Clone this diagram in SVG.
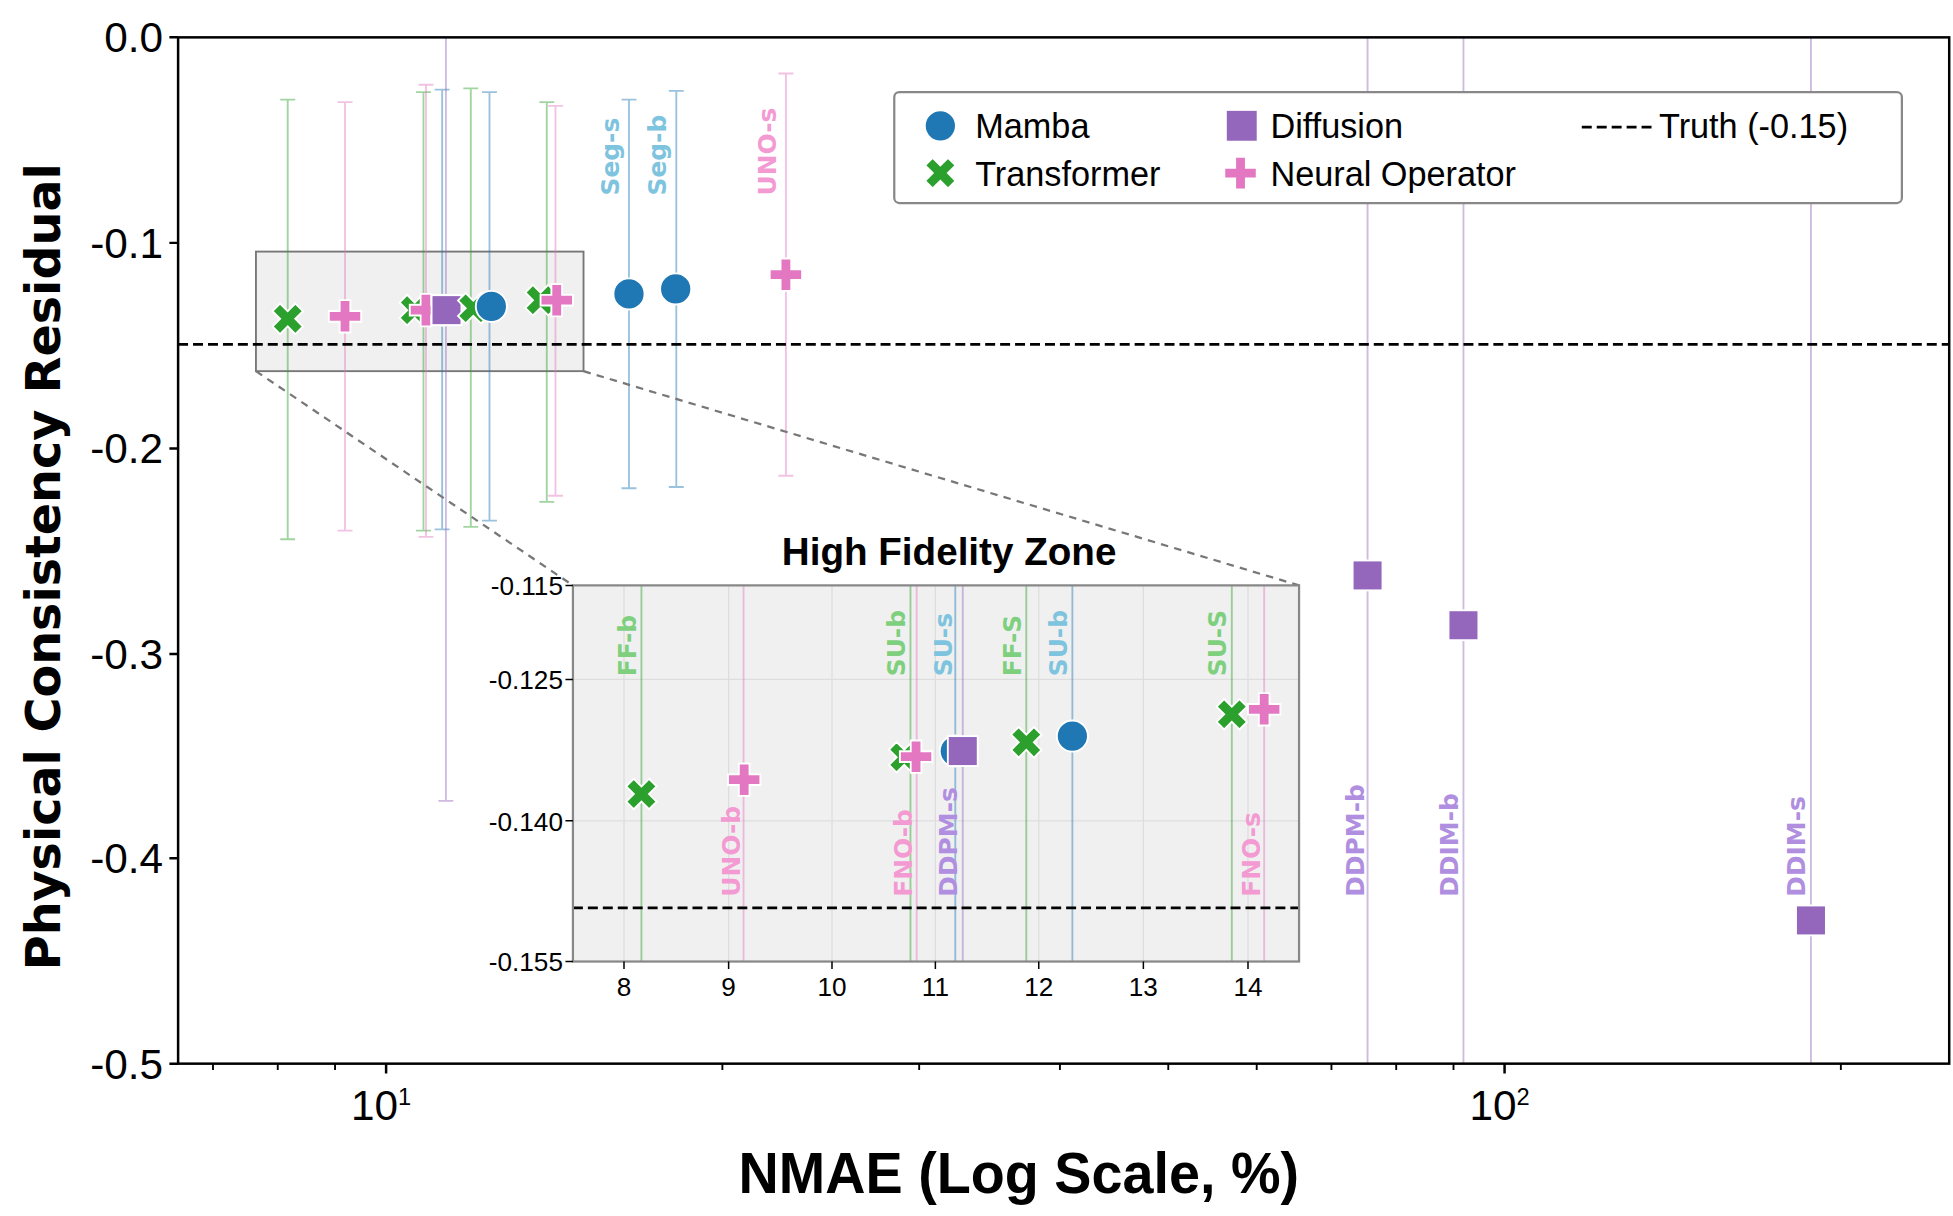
<svg xmlns="http://www.w3.org/2000/svg" width="1953" height="1216" viewBox="0 0 1953 1216">
<style>
.tk{font-family:"Liberation Sans",Arial,sans-serif;font-size:34px;fill:#000}
.itk{font-family:"Liberation Sans",Arial,sans-serif;font-size:21px;fill:#000}
.lg{font-family:"Liberation Sans",Arial,sans-serif;font-size:27.5px;fill:#000}
.lab{font-family:"DejaVu Sans",Verdana,sans-serif;font-size:20px;font-weight:bold}
.eb{stroke-width:1.5;fill:none;stroke-opacity:0.45}
.b{stroke:#1f77b4}.g{stroke:#2ca02c}.p{stroke:#e377c2}.v{stroke:#9467bd}
.cb{fill:#7fc4de}.cg{fill:#7ed07e}.cp{fill:#f49ad2}.cv{fill:#b08ee0}
</style>
<defs>
<polygon id="plus" points="-4.3,-13 4.3,-13 4.3,-4.3 13,-4.3 13,4.3 4.3,4.3 4.3,13 -4.3,13 -4.3,4.3 -13,4.3 -13,-4.3 -4.3,-4.3" fill="#e377c2" stroke="#fff" stroke-width="1.5"/>
<polygon id="xm" points="-4.3,-13 4.3,-13 4.3,-4.3 13,-4.3 13,4.3 4.3,4.3 4.3,13 -4.3,13 -4.3,4.3 -13,4.3 -13,-4.3 -4.3,-4.3" transform="rotate(45)" fill="#2ca02c" stroke="#fff" stroke-width="1.5"/>
<circle id="cir" r="12.5" fill="#1f77b4" stroke="#fff" stroke-width="1.5"/>
<rect id="sq" x="-12" y="-12" width="24" height="24" fill="#9467bd" stroke="#fff" stroke-width="1.5"/>
</defs>
<rect width="1953" height="1216" fill="#fff"/>
<g transform="scale(1.2455)">
<g id="zoombox">
<rect x="205.5" y="202" width="263" height="96" fill="#f0f0f0" stroke="#777" stroke-width="1.5"/>
</g>
<g id="errorbars">
<path class="eb g" d="M231,80V433M225,80H237M225,433H237"/>
<path class="eb p" d="M277,82V426M271,82H283M271,426H283"/>
<path class="eb g" d="M340,74V426M334,74H346M334,426H346"/>
<path class="eb p" d="M342,68V431M336,68H348M336,431H348"/>
<path class="eb b" d="M355,72V425M349,72H361M349,425H361"/>
<path class="eb v" d="M358,30V643M352,643H364"/>
<path class="eb g" d="M378,71V423M372,71H384M372,423H384"/>
<path class="eb b" d="M393,74V418M387,74H399M387,418H399"/>
<path class="eb g" d="M439,82V403M433,82H445M433,403H445"/>
<path class="eb p" d="M446,85V398M440,85H452M440,398H452"/>
<path class="eb b" d="M505,80V392M499,80H511M499,392H511"/>
<path class="eb b" d="M543,73V391M537,73H549M537,391H549"/>
<path class="eb p" d="M631,59V382M625,59H637M625,382H637"/>
<path class="eb v" d="M1098,30V854M1175,30V854M1454,30V854" stroke-opacity="0.35"/>
</g>
<g id="connectors">
<path d="M205.5,298L460,470M468.5,298L1043,470" stroke="#777" stroke-width="1.8" stroke-dasharray="6,5" fill="none"/>
</g>
<line x1="143" y1="276.5" x2="1565" y2="276.5" stroke="#000" stroke-width="2.2" stroke-dasharray="8,4"/>
<g id="main-points">
<use href="#xm" x="231" y="256"/>
<use href="#plus" x="277" y="254"/>
<use href="#xm" x="333" y="249"/>
<use href="#cir" x="356" y="249"/>
<use href="#plus" x="342" y="249"/>
<use href="#sq" x="358.5" y="249"/>
<use href="#xm" x="380" y="247.5"/>
<use href="#cir" x="394.5" y="246"/>
<use href="#xm" x="434" y="241"/>
<use href="#plus" x="447" y="241"/>
<use href="#cir" x="505" y="236"/>
<use href="#cir" x="542.5" y="232"/>
<use href="#plus" x="631" y="220.5"/>
<use href="#sq" x="1098" y="462"/>
<use href="#sq" x="1175" y="502"/>
<use href="#sq" x="1454" y="739"/>
</g>
<g id="main-labels" class="lab">
<text class="lab cb" transform="translate(497,157) rotate(-90)">Seg-s</text>
<text class="lab cb" transform="translate(535,157) rotate(-90)">Seg-b</text>
<text class="lab cp" transform="translate(623,157) rotate(-90)">UNO-s</text>
<text class="lab cv" transform="translate(1095,720) rotate(-90)">DDPM-b</text>
<text class="lab cv" transform="translate(1171,720) rotate(-90)">DDIM-b</text>
<text class="lab cv" transform="translate(1449,720) rotate(-90)">DDIM-s</text>
</g>
<g id="axes">
<rect x="143" y="30" width="1422" height="824" fill="none" stroke="#000" stroke-width="2"/>
<path d="M136,30H143M136,195H143M136,360H143M136,525H143M136,689H143M136,854H143M310,854V862M1208,854V862" stroke="#000" stroke-width="2"/>
<path d="M171,854V859M223,854V859M269,854V859M580,854V859M738,854V859M851,854V859M938,854V859M1009,854V859M1069,854V859M1121,854V859M1167,854V859M1478,854V859" stroke="#000" stroke-width="1.5"/>
<g class="tk" text-anchor="end">
<text x="131" y="42">0.0</text>
<text x="131" y="207">-0.1</text>
<text x="131" y="372">-0.2</text>
<text x="131" y="537">-0.3</text>
<text x="131" y="701">-0.4</text>
<text x="131" y="866">-0.5</text>
</g>
<text class="tk" x="306" y="899" text-anchor="middle" font-size="30">10<tspan dy="-12" font-size="19">1</tspan></text>
<text class="tk" x="1204" y="899" text-anchor="middle" font-size="30">10<tspan dy="-12" font-size="19">2</tspan></text>
<text x="818" y="958" text-anchor="middle" font-family="Liberation Sans,Arial,sans-serif" font-weight="bold" font-size="46" textLength="450" lengthAdjust="spacingAndGlyphs">NMAE (Log Scale, %)</text>
<text transform="translate(48,455) rotate(-90)" text-anchor="middle" font-family="DejaVu Sans,Verdana,sans-serif" font-weight="bold" font-size="38" textLength="648" lengthAdjust="spacingAndGlyphs">Physical Consistency Residual</text>
</g>
<g id="legend">
<rect x="718" y="74" width="809" height="89" rx="4" fill="#fff" stroke="#888" stroke-width="1.8"/>
<use href="#cir" x="755" y="101"/>
<text class="lg" x="783" y="111">Mamba</text>
<use href="#xm" x="755" y="139"/>
<text class="lg" x="783" y="149">Transformer</text>
<rect x="985" y="89" width="24" height="24" fill="#9467bd"/>
<text class="lg" x="1020" y="111">Diffusion</text>
<use href="#plus" x="996" y="139"/>
<text class="lg" x="1020" y="149">Neural Operator</text>
<line x1="1270" y1="102" x2="1326" y2="102" stroke="#000" stroke-width="2.2" stroke-dasharray="8,4"/>
<text class="lg" x="1332" y="111">Truth (-0.15)</text>
</g>
<g id="inset">
<text x="762" y="454" text-anchor="middle" font-family="Liberation Sans,Arial,sans-serif" font-weight="bold" font-size="31">High Fidelity Zone</text>
<rect x="460" y="470" width="583" height="302" fill="#f0f0f0"/>
<path d="M501,470V772M585,470V772M668,470V772M751,470V772M834,470V772M918,470V772M1002,470V772M460,545.5H1043M460,659H1043" stroke="#ddd" stroke-width="1"/>
<path class="eb g" d="M515,470V772M731,470V772M824,470V772M989,470V772" stroke-opacity="0.5"/>
<path class="eb p" d="M597,470V772M736,470V772M1015,470V772" stroke-opacity="0.5"/>
<path class="eb b" d="M767,470V772M861,470V772" stroke-opacity="0.5"/>
<path class="eb v" d="M773,470V772" stroke-opacity="0.5"/>
<line x1="460" y1="729" x2="1043" y2="729" stroke="#000" stroke-width="2.2" stroke-dasharray="8,4"/>
<use href="#xm" x="515" y="637.5"/>
<use href="#plus" x="597.5" y="626"/>
<use href="#xm" x="726" y="608"/>
<use href="#plus" x="735.5" y="607.5"/>
<use href="#cir" x="767" y="603"/>
<use href="#sq" x="773" y="603"/>
<use href="#xm" x="824" y="596"/>
<use href="#cir" x="861" y="591"/>
<use href="#xm" x="989" y="573.5"/>
<use href="#plus" x="1015" y="569.5"/>
<text class="lab cg" transform="translate(511,543) rotate(-90)">FF-b</text>
<text class="lab cg" transform="translate(727,543) rotate(-90)">SU-b</text>
<text class="lab cb" transform="translate(764,543) rotate(-90)">SU-s</text>
<text class="lab cg" transform="translate(820,543) rotate(-90)">FF-S</text>
<text class="lab cb" transform="translate(857,543) rotate(-90)">SU-b</text>
<text class="lab cg" transform="translate(984,543) rotate(-90)">SU-S</text>
<text class="lab cp" transform="translate(594,720) rotate(-90)">UNO-b</text>
<text class="lab cp" transform="translate(732,720) rotate(-90)">FNO-b</text>
<text class="lab cv" transform="translate(768,720) rotate(-90)">DDPM-s</text>
<text class="lab cp" transform="translate(1012,720) rotate(-90)">FNO-s</text>
<rect x="460" y="470" width="583" height="302" fill="none" stroke="#888" stroke-width="1.8"/>
<path d="M454,470H460M454,545.5H460M454,659H460M454,772H460M501,772V778M585,772V778M668,772V778M751,772V778M834,772V778M918,772V778M1002,772V778" stroke="#000" stroke-width="1.2"/>
<g class="itk" text-anchor="end">
<text x="452" y="478">-0.115</text>
<text x="452" y="553">-0.125</text>
<text x="452" y="667">-0.140</text>
<text x="452" y="780">-0.155</text>
</g>
<g class="itk" text-anchor="middle">
<text x="501" y="800">8</text><text x="585" y="800">9</text><text x="668" y="800">10</text><text x="751" y="800">11</text><text x="834" y="800">12</text><text x="918" y="800">13</text><text x="1002" y="800">14</text>
</g>
</g>
</g>
</svg>
